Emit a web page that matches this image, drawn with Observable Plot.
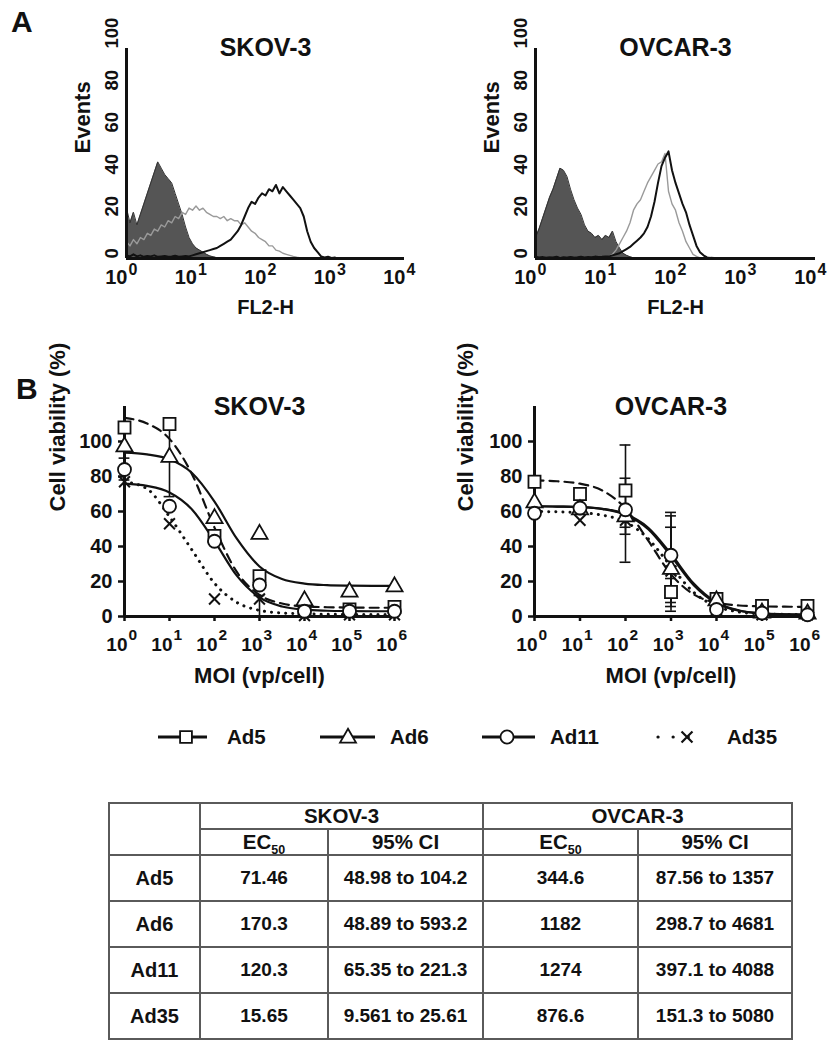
<!DOCTYPE html>
<html>
<head>
<meta charset="utf-8">
<script src="https://cdn.jsdelivr.net/npm/d3@7"></script>
<script src="https://cdn.jsdelivr.net/npm/@observablehq/plot@0.6"></script>
<style>
  body { margin: 0; background: #fff; }
  #page { position: relative; width: 833px; height: 1050px; overflow: hidden; background: #fff;
          font-family: "Liberation Sans", Arial, Helvetica, sans-serif; font-weight: bold; color: #111; }
  .abs { position: absolute; }
  .letter { font-size: 30px; line-height: 30px; }
  #ec50 { position: absolute; left: 108px; top: 802px; width: 683px; border-collapse: collapse; table-layout: fixed;
          text-align: center; font-size: 19px; color: #111; }
  #ec50 td, #ec50 th { border: 2px solid #5a5a5a; padding: 0; font-weight: bold; }
  #ec50 .thin { border-left: 1px solid #999; }
  #ec50 .hdr { font-size: 20.5px; }
  #ec50 .rowname { font-size: 20px; }
  #ec50 sub { font-size: 12.5px; vertical-align: baseline; position: relative; top: 5px; }
</style>
</head>
<body>
<div id="page"></div>
<script>
// ---------------- DATA ----------------
// Panel A: flow cytometry histograms (FL2-H on log scale, channel spacing 0.05 decade)
const histStep = 0.05;
const histXTicks = [0, 1, 2, 3, 4];
const histYTicks = [0, 20, 40, 60, 80, 100];

const skovIsotype = [24,17,22,16,21, 26,31,36,41,46, 43,40,38,36,31, 26,21,15,10,7, 5,4,3,2,1.2, 0.8,0.4,0.2,0];
const skovGray = [8,6,9,7,10, 9,12,11,14,13, 16,15,18,17,20, 19,22,21,24,23, 25,23,24,22,21, 20,20,19,20,18,
                  19,18,18,16,17, 15,13,12,10,9, 8,6,6,4,3.5, 2.5,2,1.5,1,0.6, 0.3,0.2,0];
const skovBlack = [1.5,1,2,1,1.5, 0.8,1.2,1,1.5,0.8, 1,1.2,0.8,1,1.3, 0.8,1,1.2,1,1.5,
                   2,2.5,3,3.5,4, 4.5,5,6,7,8, 9,11,13,16,20, 24,27,26,29,31,
                   30,33,32,35,31, 34,32,30,28,26, 24,20,13,8,5, 3,1,0.5,0.8,0.3, 0.5];

const ovcarIsotype = [10,14,19,24,29, 33,38,43,42,39, 33,28,24,21,16, 13,12,10,11,9, 11,10,13,8,5, 2.5,1.5,0.8,0.3,0, 0];
const ovcarGray = [0.5,0.3,0.6,0.3,0.5, 0.4,0.3,0.6,0.4,0.5, 0.3,0.5,0.4,0.6,0.3, 0.5,0.4,0.6,0.5,0.8,
                   0.5,1,2,4,7, 10,13,17,23,26, 28,32,36,39,42, 45,46,50,32,26,
                   23,17,13,8,5, 2,1,0.3,0,0, 0];
const ovcarBlack = [0.8,0.5,0.7,0.4,0.6, 0.5,0.8,0.4,0.6,0.5, 0.7,0.5,0.6,0.8,0.5, 0.7,0.6,0.9,0.7,0.8,
                    1,1,1.5,2,2.5, 3.5,4.5,5.5,7,8.5, 10,12,15,20,27, 36,44,48,51,42,
                    36,31,26,22,16, 11,6,3,1.5,0.5, 0.3,0.2,0];

// Panel B: cell viability (%) vs log10 MOI
const doseLog = [0, 1, 2, 3, 4, 5, 6];
const doseYTicks = [0, 20, 40, 60, 80, 100];
const series = ["Ad5", "Ad6", "Ad11", "Ad35"];

const skovAd5 = [108, 110, 46, 23, 4, 4, 5.5];
const skovAd6 = [97, 91, 56, 47, 9, 14, 17];
const skovAd11 = [84, 63, 43, 18, 3, 3, 3];
const skovAd35 = [77, 53, 10, 10, 0.5, 1, 1];

const ovcarAd5 = [77, 70, 72, 14, 10, 6, 6];
const ovcarAd6 = [65, 61, 57, 27, 9, 2, 1.5];
const ovcarAd11 = [59, 62, 61, 35, 4, 2, 1];
const ovcarAd35 = [61, 55, 55, 26, 4, 1, 1];

// fitted curves
const fitLog = [0, 0.5, 1, 1.5, 2, 2.5, 3, 3.5, 4, 4.5, 5, 5.5, 6];
const skovAd5Fit = [113.5, 110.3, 101.5, 81.3, 50.8, 25.3, 12.3, 7.4, 5.8, 5.3, 5.1, 5.0, 5.0];
const skovAd6Fit = [93.6, 92.6, 89.8, 82.0, 65.7, 44.3, 28.6, 21.4, 18.8, 17.9, 17.6, 17.5, 17.5];
const skovAd11Fit = [75.9, 74.6, 70.9, 61.2, 43.1, 23.2, 10.9, 5.7, 3.9, 3.3, 3.1, 3.0, 3.0];
const skovAd35Fit = [77, 73, 57, 38, 19, 8, 3.5, 2, 1.5, 1.3, 1.2, 1.2, 1.2];

const ovcarAd5Fit = [77.8, 77.3, 75.9, 71.9, 61.7, 43.3, 24.1, 12.6, 7.9, 6.3, 5.8, 5.6, 5.5];
const ovcarAd6Fit = [63, 62.8, 62.5, 61.4, 58.2, 49.9, 34.6, 17.9, 7.6, 3.3, 1.7, 1.2, 1.1];
const ovcarAd11Fit = [63, 62.8, 62.5, 61.5, 58.5, 50.7, 35.7, 18.8, 8.0, 3.4, 1.8, 1.3, 1.1];
const ovcarAd35Fit = [60, 59.8, 59.3, 57.9, 54.0, 44.4, 28.6, 13.8, 5.8, 2.6, 1.5, 1.2, 1.1];

// error bars (log MOI, low, high)
const skovErrLog = [0, 1, 3];
const skovErrLow = [78, 68.5, 0];
const skovErrHigh = [90.5, 113, 12];
const ovcarErrLog = [2, 2, 2, 3, 3, 3, 3];
const ovcarErrLow = [47, 31, 51, 12, 8, 3, 5.7];
const ovcarErrHigh = [98, 79, 63, 59.5, 57.5, 51, 21.7];

// Table
const tableRows = ["Ad5", "Ad6", "Ad11", "Ad35"];
const skovEC50 = ["71.46", "170.3", "120.3", "15.65"];
const skovCI = ["48.98 to 104.2", "48.89 to 593.2", "65.35 to 221.3", "9.561 to 25.61"];
const ovcarEC50 = ["344.6", "1182", "1274", "876.6"];
const ovcarCI = ["87.56 to 1357", "298.7 to 4681", "397.1 to 4088", "151.3 to 5080"];

// ---------------- DRAWING ----------------
const FONT = '"Liberation Sans", Arial, Helvetica, sans-serif';
const INK = "#111";
const page = document.getElementById("page");

function place(node, left, top) {
  node.style.position = "absolute";
  node.style.left = left + "px";
  node.style.top = top + "px";
  page.appendChild(node);
}
function label(text, cls, left, top) {
  const d = document.createElement("div");
  d.className = "abs " + cls;
  d.textContent = text;
  d.style.left = left + "px";
  d.style.top = top + "px";
  page.appendChild(d);
}
const toHist = (vals) => vals.map((v, i) => ({logFL2: i * histStep, events: v}));
const baseStyle = {fontFamily: FONT, fontWeight: "bold", fontSize: "18px", color: INK, background: "transparent", overflow: "visible"};

function histPlot({title, iso, gray, black, width, marginLeft, marginRight}) {
  return Plot.plot({
    width, height: 330, marginLeft, marginRight, marginTop: 48, marginBottom: 72,
    x: {domain: [0, 4], axis: null},
    y: {domain: [0, 100], axis: null},
    style: baseStyle,
    marks: [
      Plot.areaY(toHist(iso), {x: "logFL2", y: "events", fill: "#555"}),
      Plot.lineY(toHist(iso), {x: "logFL2", y: "events", stroke: "#333", strokeWidth: 1}),
      Plot.lineY(toHist(gray), {x: "logFL2", y: "events", stroke: "#9a9a9a", strokeWidth: 1.4}),
      Plot.lineY(toHist(black), {x: "logFL2", y: "events", stroke: INK, strokeWidth: 2}),
      Plot.ruleX([0], {y1: 0, y2: 100, stroke: INK, strokeWidth: 3}),
      Plot.ruleY([0], {x1: 0, x2: 4, stroke: INK, strokeWidth: 3}),
      Plot.text(histYTicks, {y: d => d, text: d => String(d), frameAnchor: "left", dx: -14, rotate: -90, fontSize: 18.5}),
      Plot.text(histXTicks, {x: d => d, text: () => "10", frameAnchor: "bottom", textAnchor: "end", dx: 1, dy: 25, fontSize: 20}),
      Plot.text(histXTicks, {x: d => d, text: d => String(d), frameAnchor: "bottom", textAnchor: "start", dx: 2, dy: 16, fontSize: 16}),
      Plot.text([title], {frameAnchor: "top", dy: -10, fontSize: 25}),
      Plot.text(["Events"], {frameAnchor: "left", dx: -44, rotate: -90, fontSize: 22}),
      Plot.text(["FL2-H"], {frameAnchor: "bottom", dy: 55, fontSize: 20})
    ]
  });
}

function dosePlot({title, pts, fits, errLog, errLow, errHigh, width, marginLeft, marginRight, ylabelDx}) {
  const rows = (vals) => vals.map((v, i) => ({log: doseLog[i], v}));
  const fitRows = (vals) => vals.map((v, i) => ({log: fitLog[i], v}));
  const errs = errLog.map((l, i) => ({log: l, low: errLow[i], high: errHigh[i]}));
  const capHalf = 0.12;
  const lineStyle = {
    Ad5: {strokeDasharray: "9,6", strokeWidth: 2.2},
    Ad6: {strokeWidth: 2.2},
    Ad11: {strokeWidth: 2.2},
    Ad35: {strokeDasharray: "0.1,7", strokeWidth: 3, strokeLinecap: "round"}
  };
  return Plot.plot({
    width, height: 380, marginLeft, marginRight, marginTop: 76, marginBottom: 94,
    x: {domain: [0, 6], axis: null},
    y: {domain: [0, 120], axis: null},
    style: baseStyle,
    marks: [
      ...series.map(s => Plot.line(fitRows(fits[s]), {x: "log", y: "v", stroke: INK, curve: "monotone-x", ...lineStyle[s]})),
      Plot.ruleX(errs, {x: "log", y1: "low", y2: "high", stroke: INK, strokeWidth: 1.6}),
      Plot.ruleY(errs, {y: "high", x1: d => d.log - capHalf, x2: d => d.log + capHalf, stroke: INK, strokeWidth: 1.6}),
      Plot.ruleY(errs, {y: "low", x1: d => d.log - capHalf, x2: d => d.log + capHalf, stroke: INK, strokeWidth: 1.6}),
      Plot.axisY({ticks: doseYTicks, tickSize: 6, tickPadding: 6, strokeWidth: 2.5, fontSize: 20, label: null}),
      Plot.axisX({ticks: doseLog, tickSize: 5, strokeWidth: 2.5, tickFormat: () => "", label: null}),
      Plot.ruleX([0], {y1: 0, y2: 120, stroke: INK, strokeWidth: 3}),
      Plot.ruleY([0], {x1: 0, x2: 6, stroke: INK, strokeWidth: 3}),
      Plot.dot(rows(pts.Ad35), {x: "log", y: "v", symbol: "times", r: 5, stroke: INK, strokeWidth: 2, fill: "none"}),
      Plot.dot(rows(pts.Ad5), {x: "log", y: "v", symbol: "square", r: 6.8, stroke: INK, strokeWidth: 1.8, fill: "white"}),
      Plot.dot(rows(pts.Ad6), {x: "log", y: "v", symbol: "triangle", r: 6, stroke: INK, strokeWidth: 1.8, fill: "white"}),
      Plot.dot(rows(pts.Ad11), {x: "log", y: "v", symbol: "circle", r: 6.5, stroke: INK, strokeWidth: 1.8, fill: "white"}),
      Plot.text(doseLog, {x: d => d, text: () => "10", frameAnchor: "bottom", textAnchor: "end", dx: 3, dy: 34, fontSize: 19}),
      Plot.text(doseLog, {x: d => d, text: d => String(d), frameAnchor: "bottom", textAnchor: "start", dx: 4, dy: 23, fontSize: 15.5}),
      Plot.text([title], {frameAnchor: "top", dy: -9, fontSize: 25}),
      Plot.text(["Cell viability (%)"], {frameAnchor: "left", dx: ylabelDx, rotate: -90, fontSize: 22}),
      Plot.text(["MOI (vp/cell)"], {frameAnchor: "bottom", dy: 66, fontSize: 22})
    ]
  });
}

label("A", "letter", 11, 7);
label("B", "letter", 16, 374);

place(histPlot({title: "SKOV-3", iso: skovIsotype, gray: skovGray, black: skovBlack, width: 420, marginLeft: 126, marginRight: 16}), 0, 0);
place(histPlot({title: "OVCAR-3", iso: ovcarIsotype, gray: ovcarGray, black: ovcarBlack, width: 413, marginLeft: 115, marginRight: 18}), 420, 0);

place(dosePlot({title: "SKOV-3",
  pts: {Ad5: skovAd5, Ad6: skovAd6, Ad11: skovAd11, Ad35: skovAd35},
  fits: {Ad5: skovAd5Fit, Ad6: skovAd6Fit, Ad11: skovAd11Fit, Ad35: skovAd35Fit},
  errLog: skovErrLog, errLow: skovErrLow, errHigh: skovErrHigh,
  width: 420, marginLeft: 124, marginRight: 26, ylabelDx: -67}), 0, 330);
place(dosePlot({title: "OVCAR-3",
  pts: {Ad5: ovcarAd5, Ad6: ovcarAd6, Ad11: ovcarAd11, Ad35: ovcarAd35},
  fits: {Ad5: ovcarAd5Fit, Ad6: ovcarAd6Fit, Ad11: ovcarAd11Fit, Ad35: ovcarAd35Fit},
  errLog: ovcarErrLog, errLow: ovcarErrLow, errHigh: ovcarErrHigh,
  width: 413, marginLeft: 114, marginRight: 26, ylabelDx: -69}), 420, 330);

// Legend
(function legend() {
  const svg = d3.create("svg").attr("width", 833).attr("height", 40)
    .style("font-family", FONT).style("font-weight", "bold");
  const cy = 20;
  const items = [
    {name: series[0], sym: d3.symbolSquare, size: 140, x0: 158, x1: 207, sx: 186, tx: 227, dash: null},
    {name: series[1], sym: d3.symbolTriangle, size: 110, x0: 320, x1: 375, sx: 348, tx: 390, dash: null},
    {name: series[2], sym: d3.symbolCircle, size: 135, x0: 482, x1: 535, sx: 507, tx: 550, dash: null},
    {name: series[3], sym: d3.symbolTimes, size: 80, x0: 658, x1: 703, sx: 687, tx: 727, dash: "0.1,15"}
  ];
  for (const it of items) {
    const ln = svg.append("line").attr("x1", it.x0).attr("x2", it.x1).attr("y1", cy).attr("y2", cy)
      .attr("stroke", INK).attr("stroke-width", it.dash ? 3.2 : 3);
    if (it.dash) ln.attr("stroke-dasharray", it.dash).attr("stroke-linecap", "round");
    const isTimes = it.sym === d3.symbolTimes;
    svg.append("path").attr("d", d3.symbol(it.sym, it.size)())
      .attr("transform", `translate(${it.sx},${cy + (it.sym === d3.symbolTriangle ? 1 : 0)})`)
      .attr("fill", isTimes ? "none" : "white").attr("stroke", INK).attr("stroke-width", isTimes ? 2.2 : 1.8);
    svg.append("text").attr("x", it.tx).attr("y", cy).attr("dy", "0.36em")
      .attr("font-size", 20.5).attr("fill", INK).text(it.name);
  }
  place(svg.node(), 0, 717);
})();

// Table
(function table() {
  const t = document.createElement("table");
  t.id = "ec50";
  const widths = [91, 128, 155, 155, 154];
  let html = "<colgroup>" + widths.map(w => `<col style="width:${w}px">`).join("") + "</colgroup>";
  html += `<tr style="height:25px"><td rowspan="2"></td><th colspan="2" class="hdr">SKOV-3</th><th colspan="2" class="hdr">OVCAR-3</th></tr>`;
  html += `<tr style="height:26px"><th class="hdr">EC<sub>50</sub></th><th class="hdr thin">95% CI</th><th class="hdr">EC<sub>50</sub></th><th class="hdr thin">95% CI</th></tr>`;
  tableRows.forEach((r, i) => {
    html += `<tr style="height:46px"><td class="rowname">${r}</td><td>${skovEC50[i]}</td><td class="thin">${skovCI[i]}</td><td>${ovcarEC50[i]}</td><td class="thin">${ovcarCI[i]}</td></tr>`;
  });
  t.innerHTML = html;
  page.appendChild(t);
})();
</script>
</body>
</html>
